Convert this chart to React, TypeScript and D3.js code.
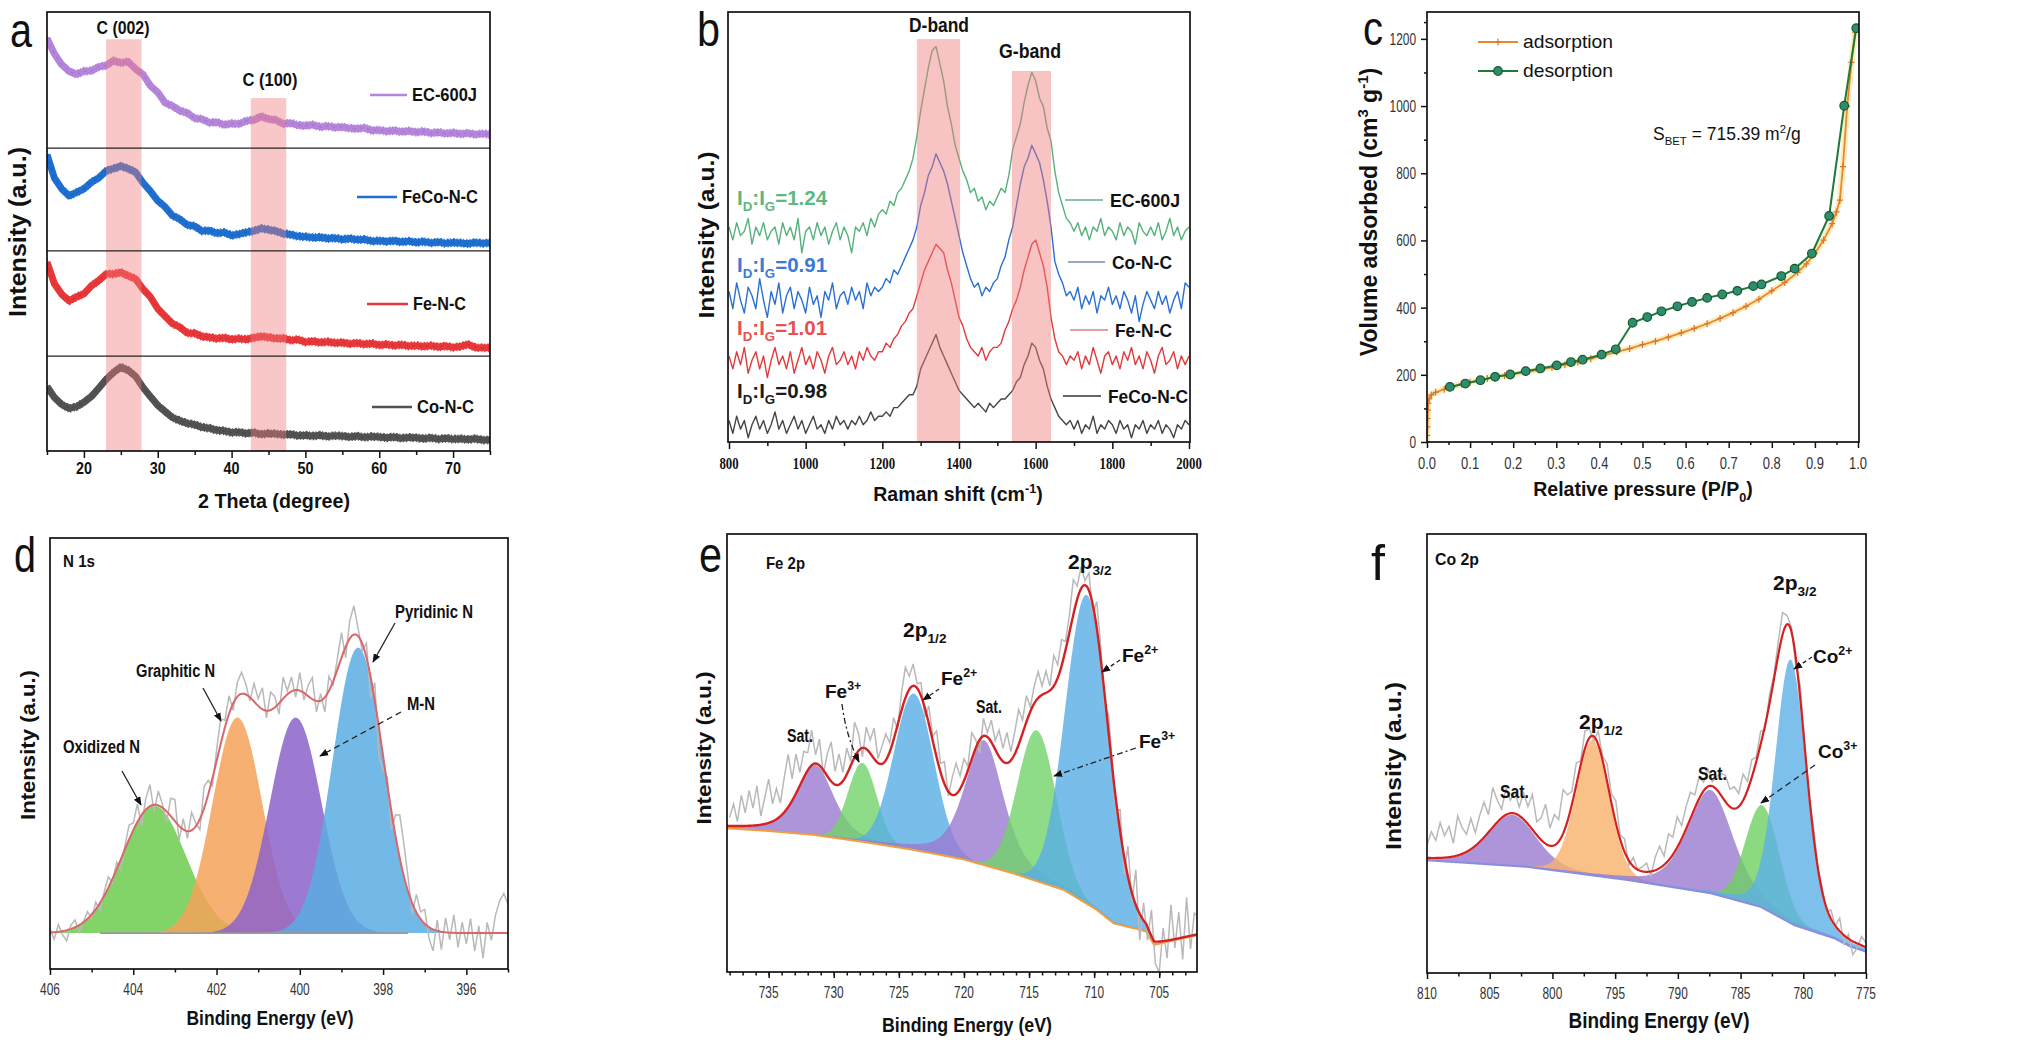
import * as d3 from "d3";
import React, { useEffect, useRef } from "react";

const SANS = "'Liberation Sans', Arial, Helvetica, sans-serif";
const SERIF = "'Liberation Serif', 'Times New Roman', serif";

// ---------- (a) XRD, one reading per degree, 15..75 ----------
const xrdStart = 15;
const xrdNames = ["EC-600J", "FeCo-N-C", "Fe-N-C", "Co-N-C"];
const xrdEC600J = [
  94, 90.5, 88, 86.5, 85.8, 86.5, 86.6, 87.5, 87.8, 88.9,
  88.4, 88.7, 87, 85.8, 83.2, 81.7, 79.3, 78.6, 77.5, 77,
  75.8, 75.6, 74.8, 74.9, 74.3, 74.6, 74.5, 75.2, 75.4, 76.2,
  75.6, 75.4, 74.5, 74.7, 74.2, 74.1, 74.3, 73.8, 74, 73.7,
  73.8, 73.5, 73.4, 73.6, 73, 73.1, 72.8, 73, 72.7, 72.9,
  72.6, 72.8, 72.4, 72.6, 72.3, 72.5, 72.2, 72.4, 72.1, 72.3,
  72.1,
];
const xrdFeCoNC = [
  67.5, 62.2, 59.7, 58.1, 58.9, 59.7, 61.2, 62.2, 63.8, 64.3,
  64.9, 64.3, 63.5, 61.1, 59.2, 57, 55.6, 53.6, 52.8, 51.5,
  51.2, 50.1, 50.2, 49.6, 49.8, 49.1, 49.4, 49.8, 50.1, 50.7,
  50.4, 50.1, 49.5, 49.3, 48.9, 48.8, 48.6, 48.7, 48.4, 48.5,
  48.2, 48.4, 48.1, 48.2, 47.8, 47.9, 47.7, 47.9, 47.6, 47.8,
  47.5, 47.7, 47.4, 47.6, 47.3, 47.5, 47.4, 47.2, 47.5, 47.3,
  47.4,
];
const xrdFeNC = [
  43, 38.1, 35.7, 34.2, 35.1, 35.8, 37.6, 38.8, 40.3, 40.3,
  40.7, 39.9, 39.2, 36.9, 35.1, 32.4, 30.7, 29, 28.2, 26.9,
  26.8, 26.1, 25.9, 25.6, 25.8, 25.4, 25.6, 25.4, 25.8, 26.1,
  25.9, 25.6, 25.7, 25.2, 25.4, 24.8, 25, 24.7, 24.9, 24.6,
  24.7, 24.4, 24.6, 24.3, 24.5, 24.1, 24.3, 24, 24.2, 23.9,
  24, 23.8, 24, 23.7, 23.9, 23.6, 23.8, 24.3, 23.6, 23.5,
  23.5,
];
const xrdCoNC = [
  14.7, 12.2, 10.6, 9.7, 10.1, 11.1, 12.4, 14.3, 16.3, 17.9,
  19.1, 18.4, 17, 14.5, 12.4, 10.4, 9, 7.6, 6.9, 6.3,
  6, 5.4, 5.2, 4.7, 4.6, 4.2, 4.3, 4, 4.2, 3.8,
  4, 3.9, 3.7, 3.8, 3.5, 3.6, 3.4, 3.6, 3.3, 3.5,
  3.4, 3.2, 3.4, 3.1, 3.3, 3.2, 3, 3.2, 2.9, 3.1,
  3, 2.8, 3, 2.7, 2.9, 2.7, 2.8, 2.6, 2.8, 2.5,
  2.5,
];
const xrdBandLabels = ["C (002)", "C (100)"];
const xrdBandFrom = [23, 42.6];
const xrdBandTo = [27.8, 47.4];
const xrdBandTop = [93.8, 80.4];
const xrdSeparators = [69, 45.6, 21.6];
const xrdTicks = [20, 30, 40, 50, 60, 70];
const xrdMinor = [15, 25, 35, 45, 55, 65, 75];

// ---------- (b) Raman, every 10 cm-1 from 800 to 2000 ----------
const ramanStart = 800;
const ramanStep = 10;
const ramanNames = ["EC-600J", "Co-N-C", "Fe-N-C", "FeCo-N-C"];
const ramanRatios = ["1.24", "0.91", "1.01", "0.98"];
const ramanEC600J = [
  50, 47, 51, 48, 49, 52, 46, 50, 48, 51, 47, 49, 50, 46, 51, 48, 50, 47, 52, 44, 49, 50, 47, 51, 48, 50, 46, 49, 51, 47, 50,
  48, 44, 50, 49, 51, 48, 52, 50, 53,
  54, 53, 56, 55, 58, 59, 61, 63, 66, 71,
  77, 82, 87, 91, 92, 88, 84, 78, 74, 69,
  66, 63, 61, 58, 59, 56, 57, 54, 56, 55,
  57, 59, 58, 62, 68, 71, 74, 79, 83, 86,
  84, 80, 78, 73, 70, 63, 58, 55, 52, 51,
  49, 51, 48, 50, 47, 50, 49, 52, 48, 50,
  49, 47, 51, 48, 50, 49, 46, 51, 49, 48,
  50, 48, 51, 47, 49, 52, 48, 50, 47, 49,
  50,
];
const ramanCoNC = [
  35, 31, 37, 33, 30, 36, 34, 31, 38, 33, 29, 35, 32, 37, 30, 34, 36, 31, 35, 33, 30, 36, 32, 34, 29, 35, 33, 37, 31, 34, 35,
  32, 36, 33, 35, 31, 37, 34, 36, 35,
  36, 38, 37, 40, 39, 41, 43, 45, 47, 50,
  55, 58, 62, 64, 67, 65, 63, 60, 56, 52,
  48, 44, 41, 38, 36, 37, 34, 36, 35, 37,
  38, 41, 43, 47, 50, 55, 60, 64, 66, 69,
  67, 65, 61, 56, 50, 42, 39, 37, 34, 35,
  33, 36, 31, 34, 32, 35, 30, 34, 33, 36,
  32, 34, 31, 35, 33, 30, 34, 28, 32, 35,
  33, 31, 35, 32, 34, 30, 33, 35, 31, 37,
  36,
];
const ramanFeNC = [
  20, 17, 21, 18, 22, 16, 19, 21, 17, 20, 15, 19, 22, 18, 20, 17, 21, 16, 19, 22, 18, 20, 17, 21, 19, 16, 20, 22, 18, 19, 21,
  18, 20, 17, 21, 19, 22, 20, 19, 21,
  21, 23, 22, 24, 25, 27, 28, 30, 31, 34,
  37, 40, 42, 44, 46, 45, 44, 40, 37, 33,
  29, 27, 24, 22, 21, 20, 22, 19, 21, 22,
  22, 23, 26, 28, 31, 33, 36, 40, 43, 46,
  47, 44, 41, 36, 29, 24, 21, 20, 18, 20,
  19, 21, 17, 20, 18, 22, 19, 16, 20, 21,
  18, 20, 17, 21, 19, 22, 18, 20, 17, 21,
  19, 16, 20, 22, 18, 19, 21, 17, 20, 18,
  20,
];
const ramanFeCoNC = [
  5, 2, 6, 3, 5, 1, 4, 6, 3, 5, 2, 4, 7, 3, 5, 2, 4, 6, 3, 5, 2, 4, 6, 3, 4, 2, 5, 3, 6, 4, 5,
  3, 5, 4, 6, 4, 5, 7, 5, 6,
  6, 7, 6, 8, 8, 9, 10, 11, 11, 13,
  17, 19, 21, 23, 25, 22, 20, 18, 16, 14,
  12, 11, 10, 9, 8, 9, 8, 7, 9, 8,
  9, 10, 10, 11, 12, 14, 15, 18, 20, 23,
  22, 19, 17, 13, 10, 8, 6, 5, 4, 5,
  3, 5, 2, 4, 3, 6, 2, 4, 3, 5,
  4, 2, 5, 3, 4, 1, 4, 3, 5, 2,
  4, 3, 5, 2, 4, 3, 1, 4, 3, 5,
  4,
];
const ramanBandLabels = ["D-band", "G-band"];
const ramanBandFrom = [1290, 1538];
const ramanBandTo = [1403, 1640];
const ramanBandTop = [93.7, 86.3];
const ramanTicks = [800, 1000, 1200, 1400, 1600, 1800, 2000];
const ramanMinor = [900, 1100, 1300, 1500, 1700, 1900];

// ---------- (c) N2 isotherm ----------
const adsP = [0, 0.0005, 0.001, 0.0015, 0.002, 0.003, 0.005, 0.01, 0.02, 0.04, 0.06, 0.08, 0.1, 0.12, 0.14, 0.16, 0.18, 0.2, 0.23, 0.26, 0.29, 0.32, 0.35, 0.38, 0.41, 0.44, 0.47, 0.5, 0.53, 0.56, 0.59, 0.62, 0.65, 0.68, 0.71, 0.74, 0.77, 0.8, 0.83, 0.86, 0.88, 0.9, 0.92, 0.94, 0.95, 0.958, 0.965, 0.975, 0.985, 0.993];
const adsV = [0, 20, 45, 70, 95, 115, 128, 140, 148, 157, 165, 172, 178, 183, 189, 193, 198, 202, 208, 215, 222, 230, 238, 248, 258, 268, 278, 290, 300, 312, 325, 338, 352, 368, 385, 404, 425, 450, 475, 505, 530, 562, 601, 650, 685, 720, 820, 1000, 1130, 1220];
const desP = [0.996, 0.968, 0.933, 0.893, 0.853, 0.822, 0.776, 0.757, 0.72, 0.685, 0.65, 0.615, 0.581, 0.544, 0.511, 0.477, 0.438, 0.405, 0.361, 0.334, 0.301, 0.263, 0.229, 0.193, 0.158, 0.124, 0.089, 0.053];
const desV = [1232, 1001, 673, 561, 516, 494, 469, 464, 450, 439, 429, 417, 404, 389, 372, 355, 276, 260, 245, 238, 228, 219, 211, 201, 194, 184, 174, 164];
const betXTicks = [0, 0.1, 0.2, 0.3, 0.4, 0.5, 0.6, 0.7, 0.8, 0.9, 1.0];
const betYTicks = [0, 200, 400, 600, 800, 1000, 1200];

// ---------- (d) N 1s: fitted peaks + residual of the measured counts ----------
const n1sNames = ["Oxidized N", "Graphitic N", "M-N", "Pyridinic N"];
const n1sCenter = [403.5, 401.5, 400.1, 398.6];
const n1sHeight = [35.5, 60, 60, 79.5];
const n1sFwhm = [1.8, 1.4, 1.46, 1.44];
const n1sEta = [0, 0, 0, 0];
const n1sBgE = [406, 395];
const n1sBgV = [10, 10];
const n1sResStart = 406;
const n1sResStep = 0.1;
const n1sResidual = [
  1, -2, 2, -1, -3, 1, 2, -2, 0, 2,
  -1, 2, -2, 1, 3, -1, 2, -3, 1, 4,
  2, 5, -3, 3, 6, -2, 4, 1, -3, 5,
  6, -4, 3, -2, 5, 1, -3, 6, 4, -2,
  3, 7, 2, 5, -2, 4, 6, 3, -1, 5,
  2, 6, -2, 5, 3, -3, 6, 1, 4, -2,
  5, -2, 3, 6, -3, 2, -4, 4, -1, 3,
  7, -3, 5, 8, 2, -2, 4, -6, 5, -8,
  -4, 2, -5, 6, 12, 9, 4, -3, 5, 2,
  4, -3, -6, 3, -5, 4, -2, 5, -4, 3,
  -3, 4, -5, 2, -7, 3, -2, 5, 9, 11,
  8,
];
const n1sTicks = [406, 404, 402, 400, 398, 396];
const n1sMinor = [405, 403, 401, 399, 397, 395];

// ---------- (e) Fe 2p ----------
const fe2pNames = ["Sat.", "Fe3+", "Fe2+", "Sat.", "Fe3+", "Fe2+"];
const fe2pCenter = [731.4, 727.8, 723.85, 718.45, 714.4, 710.55];
const fe2pHeight = [16, 18, 35.7, 28.5, 34.4, 70.5];
const fe2pFwhm = [3.3, 2.6, 3.6, 3.5, 3.5, 3.85];
const fe2pEta = [0.5, 0, 0, 0.5, 0, 0];
const fe2pBgE = [738.2, 735, 731.5, 727.5, 723.9, 720, 716.2, 712.3, 709.8, 708.5, 706.4, 706, 705.4, 702.1];
const fe2pBgV = [32.8, 32.2, 31.3, 29.6, 27.9, 25.7, 22.5, 18.7, 14.2, 11.1, 9.6, 9.2, 6.2, 8.4];
const fe2pResStart = 738;
const fe2pResStep = 0.3;
const fe2pResidual = [
  2, 5, 1, 7, 3, 8, 4, 9, 2, 6,
  10, 4, 7, 3, 8, 12, 5, 9, 3, 6,
  4, 8, 2, 6, -1, 5, 9, 3, 7, 2,
  6, 1, 8, 4, -2, 5, 3, 7, 1, 4,
  6, 2, 5, -1, 4, 7, 3, 5, 1, 3,
  -2, 4, 1, 6, 2, 5, -1, 4, 7, 3,
  5, 1, 6, 2, -3, 4, 1, 5, 2, 6,
  3, 7, 2, 5, 8, 3, 6, 1, 4, 6,
  2, 5, 1, 7, 3, 6, 2, 4, 8, 3,
  5, 1, 4, -2, 6, 3, -3, 4, 1, -2,
  5, -4, 7, -2, 8, -6, 4, -3, 6, -5,
  -7, 3, -4, 8, -2, 6, -5, 9, -3, 5,
  4,
];
const fe2pTicks = [735, 730, 725, 720, 715, 710, 705];
const fe2pMinor = d3.range(703, 739);

// ---------- (f) Co 2p ----------
const co2pNames = ["Sat.", "2p1/2", "Sat.", "Co3+", "Co2+"];
const co2pCenter = [803.2, 796.8, 787.4, 783.25, 781.0];
const co2pHeight = [11.6, 30.8, 23.5, 23.3, 60];
const co2pFwhm = [4.5, 3.1, 4.3, 3.2, 2.9];
const co2pEta = [0.3, 0.1, 0.4, 0, 0.2];
const co2pBgE = [810, 802, 794, 787.4, 783.4, 780.7, 777.5, 776.2, 775];
const co2pBgV = [25.7, 24.2, 21.2, 18.2, 15.1, 10.9, 7.9, 6.0, 4.9];
const co2pResStart = 810;
const co2pResStep = 0.35;
const co2pResidual = [
  3, 6, 4, 8, 5, 7, 3, 9, 6, 4,
  7, 3, 6, 8, 4, 9, 5, 2, 6, 3,
  5, 2, 6, 4, 8, 3, 5, 9, 4, 7,
  5, 10, 6, 3, 5, 1, 4, 2, -1, 3,
  1, 4, 2, 5, 1, 3, -1, 2, 0, 1,
  2, -1, 3, 5, 2, 6, 4, 7, 3, 5,
  6, 3, 5, 2, 4, 1, 3, 5, 6, 4,
  5, 3, 6, 2, 4, 1, 3, -1, 2, 1,
  3, 5, 2, 1, -2, 3, 1, -1, 2, 0,
  1, -1, 2, 0, 3, -2, 1, -3, -1, 2,
  1,
];
const co2pTicks = [810, 805, 800, 795, 790, 785, 780, 775];
const co2pMinor = [807.5, 802.5, 797.5, 792.5, 787.5, 782.5, 777.5];

// ---------- helpers ----------
function pseudoVoigt(x, c, h, f, eta) {
  const t = (x - c) / f;
  return h * ((1 - eta) * Math.exp(-4 * Math.LN2 * t * t) + eta / (1 + 4 * t * t));
}

function addClip(defs, id, fr) {
  defs.append("clipPath").attr("id", id).append("rect")
    .attr("x", fr.x0).attr("y", fr.y0).attr("width", fr.x1 - fr.x0).attr("height", fr.y1 - fr.y0);
}

function frame(g, fr) {
  g.append("rect").attr("x", fr.x0).attr("y", fr.y0)
    .attr("width", fr.x1 - fr.x0).attr("height", fr.y1 - fr.y0)
    .attr("fill", "none").attr("stroke", "#111").attr("stroke-width", 1.7);
}

function text(g, x, y, s, size, o: any = {}) {
  const t = g.append("text").attr("x", x).attr("y", y)
    .attr("font-family", o.family || SANS).attr("font-size", size)
    .attr("font-weight", o.weight || "bold").attr("fill", o.fill || "#111")
    .attr("text-anchor", o.anchor || "start").text(s);
  if (o.len) t.attr("textLength", o.len).attr("lengthAdjust", "spacingAndGlyphs");
  if (o.rotate) t.attr("transform", `rotate(-90 ${x} ${y})`);
  return t;
}

// parts: [string, "n" | "sub" | "sup"]
function rich(g, x, y, parts, size, o: any = {}) {
  const t = g.append("text").attr("x", x).attr("y", y)
    .attr("font-family", o.family || SANS).attr("font-size", size)
    .attr("font-weight", o.weight || "bold").attr("fill", o.fill || "#111")
    .attr("text-anchor", o.anchor || "start");
  let shift = 0;
  parts.forEach(([s, k]) => {
    const target = k === "sub" ? size * 0.3 : k === "sup" ? -size * 0.4 : 0;
    t.append("tspan").attr("dy", target - shift)
      .attr("font-size", k === "n" ? size : size * 0.65).text(s);
    shift = target;
  });
  if (o.rotate) t.attr("transform", `rotate(-90 ${x} ${y})`);
  return t;
}

function bottomTicks(g, x, y0, major, minor, majorLen = 7, minorLen = 4) {
  [[minor, minorLen], [major, majorLen]].forEach(([vals, len]: any) => {
    const a = g.append("g").attr("transform", `translate(0,${y0})`)
      .call(d3.axisBottom(x).tickValues(vals).tickSize(len).tickFormat(() => ""));
    a.select(".domain").remove();
    a.selectAll("line").attr("stroke", "#111").attr("stroke-width", 1.5);
  });
}

function bottomLabels(g, x, yb, vals, fmt, size, cw, o: any = {}) {
  vals.forEach((v) => {
    const s = fmt(v);
    text(g, x(v), yb, s, size, { anchor: "middle", len: s.length * cw, ...o });
  });
}

function arrow(g, d, dash?) {
  const p = g.append("path").attr("d", d).attr("fill", "none")
    .attr("stroke", "#222").attr("stroke-width", 1.3).attr("marker-end", "url(#arrowHead)");
  if (dash) p.attr("stroke-dasharray", dash);
}

// ---------- panels ----------
function drawXrd(svg, defs) {
  const fr = { x0: 47, x1: 490, y0: 12, y1: 451 };
  const x = d3.scaleLinear().domain([15, 75]).range([fr.x0, fr.x1]);
  const y = d3.scaleLinear().domain([0, 100]).range([fr.y1, fr.y0]);
  const g = svg.append("g");
  addClip(defs, "clipA", fr);
  const plot = g.append("g").attr("clip-path", "url(#clipA)");
  const series = [xrdEC600J, xrdFeCoNC, xrdFeNC, xrdCoNC];
  const colors = ["#b585dc", "#1f6fd0", "#e8373a", "#525252"];
  const line = d3.line<number>().x((_, i) => x(xrdStart + i)).y((d) => y(d));
  series.forEach((s, k) => {
    plot.append("path").attr("d", line(s)).attr("fill", "none")
      .attr("stroke", colors[k]).attr("stroke-width", 7).attr("stroke-linejoin", "round");
    // ragged edges of the noisy band
    [-3.6, 3.6].forEach((off, j) => {
      plot.append("path").attr("d", line(s)).attr("transform", `translate(0,${off})`)
        .attr("fill", "none").attr("stroke", colors[k]).attr("stroke-width", 1.6)
        .attr("stroke-dasharray", j ? "1.5,2.5,1,1.5" : "1,2,2,1.5");
    });
    plot.append("path").attr("d", line(s)).attr("fill", "none")
      .attr("stroke", d3.color(colors[k]).darker(0.5).formatHex()).attr("stroke-width", 1.2)
      .attr("stroke-dasharray", "3,4").attr("opacity", 0.6);
  });
  xrdBandFrom.forEach((b, k) => {
    plot.append("rect").attr("x", x(b)).attr("width", x(xrdBandTo[k]) - x(b))
      .attr("y", y(xrdBandTop[k])).attr("height", fr.y1 - y(xrdBandTop[k]))
      .attr("fill", "#f07a7a").attr("opacity", 0.42);
  });
  xrdSeparators.forEach((v) => {
    plot.append("line").attr("x1", fr.x0).attr("x2", fr.x1).attr("y1", y(v)).attr("y2", y(v))
      .attr("stroke", "#222").attr("stroke-width", 1.2);
  });
  frame(g, fr);
  bottomTicks(g, x, fr.y1, xrdTicks, xrdMinor, 7, 4);
  bottomLabels(g, x, 474, xrdTicks, (v) => String(v), 17, 8);
  text(g, 123, 34, xrdBandLabels[0], 18, { anchor: "middle", len: 53 });
  text(g, 270, 86, xrdBandLabels[1], 18, { anchor: "middle", len: 55 });
  // legend
  const lx0 = [370, 357, 367, 372], lx1 = [407, 397, 408, 412], ly = [95, 197, 304, 407];
  const tl = [65, 76, 53, 57];
  xrdNames.forEach((n, k) => {
    g.append("line").attr("x1", lx0[k]).attr("x2", lx1[k]).attr("y1", ly[k]).attr("y2", ly[k])
      .attr("stroke", colors[k]).attr("stroke-width", 2.5);
    text(g, lx1[k] + 5, ly[k] + 6, n, 17.5, { len: tl[k] });
  });
  text(g, 274, 508, "2 Theta (degree)", 21, { anchor: "middle", len: 152 });
  text(g, 26, 232, "Intensity (a.u.)", 23, { anchor: "middle", rotate: true, len: 170 });
  text(g, 10, 47, "a", 48, { weight: "normal", len: 22 });
}

function drawRaman(svg, defs) {
  const fr = { x0: 728, x1: 1190, y0: 12, y1: 442 };
  const x = d3.scaleLinear().domain([800, 2000]).range([729, 1189]);
  const y = d3.scaleLinear().domain([0, 100]).range([fr.y1, fr.y0]);
  const g = svg.append("g");
  addClip(defs, "clipB", fr);
  const plot = g.append("g").attr("clip-path", "url(#clipB)");
  const series = [ramanEC600J, ramanCoNC, ramanFeNC, ramanFeCoNC];
  const colors = ["#55b27a", "#2a6fd4", "#e23a3c", "#454545"];
  const line = d3.line<number>().x((_, i) => x(ramanStart + i * ramanStep)).y((d) => y(d));
  series.forEach((s, k) => {
    plot.append("path").attr("d", line(s)).attr("fill", "none")
      .attr("stroke", colors[k]).attr("stroke-width", 1.4).attr("stroke-linejoin", "round");
  });
  ramanBandFrom.forEach((b, k) => {
    plot.append("rect").attr("x", x(b)).attr("width", x(ramanBandTo[k]) - x(b))
      .attr("y", y(ramanBandTop[k])).attr("height", fr.y1 - y(ramanBandTop[k]))
      .attr("fill", "#f07a7a").attr("opacity", 0.45);
  });
  frame(g, fr);
  bottomTicks(g, x, fr.y1, ramanTicks, ramanMinor, 7, 4);
  bottomLabels(g, x, 469, ramanTicks, (v) => String(v), 17, 6.4, { family: SERIF });
  text(g, 939, 32, ramanBandLabels[0], 21, { anchor: "middle", len: 60 });
  text(g, 1030, 58, ramanBandLabels[1], 21, { anchor: "middle", len: 62 });
  const ratioY = [205, 272, 335, 398];
  const ratioCol = ["#5cb87e", "#3a7ad8", "#e85050", "#1a1a1a"];
  ramanRatios.forEach((r, k) => {
    rich(g, 737, ratioY[k], [["I", "n"], ["D", "sub"], [":I", "n"], ["G", "sub"], ["=" + r, "n"]], 20.5,
      { fill: ratioCol[k] });
  });
  const lx0 = [1065, 1068, 1070, 1063], lx1 = [1103, 1105, 1108, 1101], ly = [200, 262, 330, 396];
  const tl = [70, 60, 57, 80];
  const legCol = ["#6aaa8c", "#6f8db5", "#d98080", "#333"];
  ramanNames.forEach((n, k) => {
    g.append("line").attr("x1", lx0[k]).attr("x2", lx1[k]).attr("y1", ly[k]).attr("y2", ly[k])
      .attr("stroke", legCol[k]).attr("stroke-width", 1.6);
    text(g, lx1[k] + 7, ly[k] + 7, n, 19, { len: tl[k] });
  });
  rich(g, 958, 501, [["Raman shift (cm", "n"], ["-1", "sup"], [")", "n"]], 19.5, { anchor: "middle" });
  text(g, 714, 235, "Intensity (a.u.)", 22, { anchor: "middle", rotate: true, len: 167 });
  text(g, 697, 46, "b", 48, { weight: "normal", len: 23 });
}

function drawBet(svg, defs) {
  const fr = { x0: 1427, x1: 1859, y0: 12, y1: 442 };
  const x = d3.scaleLinear().domain([0, 1]).range([1427, 1858]);
  const y = d3.scaleLinear().domain([0, 1280]).range([fr.y1, fr.y0]);
  const g = svg.append("g");
  addClip(defs, "clipC", fr);
  const plot = g.append("g").attr("clip-path", "url(#clipC)");
  const ads = adsP.map((p, i) => [p, adsV[i]]);
  const des = desP.map((p, i) => [p, desV[i]]);
  const line = d3.line<number[]>().x((d) => x(d[0])).y((d) => y(d[1]));
  plot.append("path").attr("d", line(ads)).attr("fill", "none")
    .attr("stroke", "#f7dc7a").attr("stroke-width", 6).attr("opacity", 0.5);
  plot.append("path").attr("d", line(ads)).attr("fill", "none")
    .attr("stroke", "#e8892f").attr("stroke-width", 1.8);
  plot.selectAll(".plus").data(ads).join("path")
    .attr("d", (d) => `M${x(d[0]) - 3},${y(d[1])}H${x(d[0]) + 3}M${x(d[0])},${y(d[1]) - 3.5}V${y(d[1]) + 3.5}`)
    .attr("stroke", "#d9752e").attr("stroke-width", 1.2);
  plot.append("path").attr("d", line(des)).attr("fill", "none")
    .attr("stroke", "#1e7a34").attr("stroke-width", 2);
  plot.selectAll(".dot").data(des).join("circle")
    .attr("cx", (d) => x(d[0])).attr("cy", (d) => y(d[1])).attr("r", 4.3)
    .attr("fill", "#2f8c72").attr("stroke", "#135c24").attr("stroke-width", 1.2);
  frame(g, fr);
  bottomTicks(g, x, fr.y1, betXTicks, [0.05, 0.15, 0.25, 0.35, 0.45, 0.55, 0.65, 0.75, 0.85, 0.95], 6, 3);
  bottomLabels(g, x, 469, betXTicks, d3.format(".1f"), 16, 6, { weight: "normal", fill: "#333" });
  [[[100, 300, 500, 700, 900, 1100, 1250], 3], [betYTicks, 6]].forEach(([vals, len]: any) => {
    const a = g.append("g").attr("transform", `translate(${fr.x0},0)`)
      .call(d3.axisLeft(y).tickValues(vals).tickSize(len).tickFormat(() => ""));
    a.select(".domain").remove();
    a.selectAll("line").attr("stroke", "#111").attr("stroke-width", 1.5);
  });
  betYTicks.forEach((v) => {
    const s = String(v);
    text(g, 1416, y(v) + 6, s, 16, { anchor: "end", weight: "normal", fill: "#333", len: s.length * 6.6 });
  });
  // legend
  g.append("line").attr("x1", 1478).attr("x2", 1518).attr("y1", 42).attr("y2", 42)
    .attr("stroke", "#e8892f").attr("stroke-width", 2);
  g.append("path").attr("d", "M1495,42H1501M1498,38.5V45.5").attr("stroke", "#d9752e").attr("stroke-width", 1.2);
  text(g, 1523, 48, "adsorption", 19, { weight: "normal", len: 90 });
  g.append("line").attr("x1", 1478).attr("x2", 1518).attr("y1", 71).attr("y2", 71)
    .attr("stroke", "#1e7a34").attr("stroke-width", 2);
  g.append("circle").attr("cx", 1498).attr("cy", 71).attr("r", 4.3)
    .attr("fill", "#2f8c72").attr("stroke", "#135c24").attr("stroke-width", 1.2);
  text(g, 1523, 77, "desorption", 19, { weight: "normal", len: 90 });
  rich(g, 1653, 140, [["S", "n"], ["BET", "sub"], [" = 715.39 m", "n"], ["2", "sup"], ["/g", "n"]], 17.5,
    { weight: "normal" });
  rich(g, 1643, 496, [["Relative pressure (P/P", "n"], ["0", "sub"], [")", "n"]], 19.5, { anchor: "middle" });
  rich(g, 1377, 212, [["Volume adsorbed (cm", "n"], ["3", "sup"], [" g", "n"], ["-1", "sup"], [")", "n"]], 23,
    { anchor: "middle", rotate: true });
  text(g, 1363, 45, "c", 48, { weight: "normal", len: 20 });
}

function drawXps(svg, defs, c) {
  const { fr } = c;
  const x = d3.scaleLinear().domain(c.xDom).range([fr.x0, fr.x1]);
  const y = d3.scaleLinear().domain(c.yDom).range([fr.y1, fr.y0]);
  const bg = d3.scaleLinear().domain(c.bgE).range(c.bgV);
  const comp = (e, k) => pseudoVoigt(e, c.center[k], c.height[k], c.fwhm[k], c.eta[k]);
  const env = (e) => bg(e) + c.center.reduce((s, _, k) => s + comp(e, k), 0);
  const lo = d3.min(c.xDom), hi = d3.max(c.xDom);
  const grid = d3.range(lo, hi, 0.05).concat([hi]);
  const g = svg.append("g");
  addClip(defs, c.id, fr);
  const plot = g.append("g").attr("clip-path", `url(#${c.id})`);
  c.center.forEach((_, k) => {
    const area = d3.area<number>().x((e) => x(e)).y0((e) => y(bg(e))).y1((e) => y(bg(e) + comp(e, k)));
    plot.append("path").attr("d", area(grid)).attr("fill", c.colors[k]).attr("fill-opacity", c.alpha);
  });
  const bgGrid = grid.filter((e) => e >= c.bgLine[0] && e <= c.bgLine[1]);
  plot.append("path").attr("d", d3.line<number>().x((e) => x(e)).y((e) => y(bg(e)))(bgGrid))
    .attr("fill", "none").attr("stroke", c.bgColor).attr("stroke-width", c.bgWidth);
  const raw = c.res.map((r, i) => {
    const e = c.resStart - i * c.resStep;
    return [e, env(e) + r];
  });
  plot.append("path").attr("d", d3.line<number[]>().x((d) => x(d[0])).y((d) => y(d[1]))(raw))
    .attr("fill", "none").attr("stroke", "#b9b9b9").attr("stroke-width", 1.5);
  plot.append("path").attr("d", d3.line<number>().x((e) => x(e)).y((e) => y(env(e)))(grid))
    .attr("fill", "none").attr("stroke", c.envColor).attr("stroke-width", c.envWidth);
  frame(g, fr);
  bottomTicks(g, x, fr.y1, c.ticks, c.minor, 6, 3.5);
  bottomLabels(g, x, c.tickY, c.ticks, (v) => String(v), 17, 6.6, { weight: "normal", fill: "#333" });
  return g;
}

function drawN1s(svg, defs) {
  const g = drawXps(svg, defs, {
    id: "clipD", fr: { x0: 50, x1: 508, y0: 538, y1: 969 },
    xDom: [406, 395], yDom: [0, 120],
    bgE: n1sBgE, bgV: n1sBgV, center: n1sCenter, height: n1sHeight, fwhm: n1sFwhm, eta: n1sEta,
    colors: ["#6ccb4e", "#f4a259", "#8c63ca", "#5badE3"], alpha: 0.85,
    bgLine: [397.4, 404.8], bgColor: "#9a9a9a", bgWidth: 1.6,
    res: n1sResidual, resStart: n1sResStart, resStep: n1sResStep,
    envColor: "#d8676c", envWidth: 2,
    ticks: n1sTicks, minor: n1sMinor, tickY: 995,
  });
  text(g, 63, 567, "N 1s", 17, { len: 32 });
  text(g, 395, 618, n1sNames[3], 18, { len: 78 });
  text(g, 136, 677, n1sNames[1], 18, { len: 79 });
  text(g, 407, 710, n1sNames[2], 18, { len: 28 });
  text(g, 63, 753, n1sNames[0], 18, { len: 77 });
  arrow(g, "M395,623L373,662");
  arrow(g, "M203,688L221,721");
  arrow(g, "M401,712L320,756", "6,4");
  arrow(g, "M122,771L141,805");
  text(g, 270, 1025, "Binding Energy (eV)", 21, { anchor: "middle", len: 167 });
  text(g, 35, 745, "Intensity (a.u.)", 20, { anchor: "middle", rotate: true, len: 150 });
  text(g, 14, 572, "d", 50, { weight: "normal", len: 22 });
}

function drawFe2p(svg, defs) {
  const g = drawXps(svg, defs, {
    id: "clipE", fr: { x0: 727, x1: 1197, y0: 534, y1: 972 },
    xDom: [738.2, 702.1], yDom: [0, 100],
    bgE: fe2pBgE, bgV: fe2pBgV, center: fe2pCenter, height: fe2pHeight, fwhm: fe2pFwhm, eta: fe2pEta,
    colors: ["#9a7ad0", "#72d36a", "#58aee6", "#9a7ad0", "#72d36a", "#58aee6"], alpha: 0.8,
    bgLine: [702, 739], bgColor: "#f0a040", bgWidth: 2,
    res: fe2pResidual, resStart: fe2pResStart, resStep: fe2pResStep,
    envColor: "#d42222", envWidth: 2.4,
    ticks: fe2pTicks, minor: fe2pMinor, tickY: 998,
  });
  text(g, 766, 569, "Fe 2p", 17, { len: 39 });
  rich(g, 1068, 569, [["2p", "n"], ["3/2", "sub"]], 21);
  rich(g, 903, 637, [["2p", "n"], ["1/2", "sub"]], 21);
  text(g, 787, 742, fe2pNames[0], 18, { len: 26 });
  text(g, 976, 713, fe2pNames[3], 18, { len: 26 });
  rich(g, 825, 698, [["Fe", "n"], ["3+", "sup"]], 19);
  rich(g, 941, 685, [["Fe", "n"], ["2+", "sup"]], 19);
  rich(g, 1122, 662, [["Fe", "n"], ["2+", "sup"]], 19);
  rich(g, 1139, 748, [["Fe", "n"], ["3+", "sup"]], 19);
  arrow(g, "M842,704Q846,736 859,762", "6,3,2,3");
  arrow(g, "M939,689L923,700", "4,3");
  arrow(g, "M1120,660L1102,672", "4,3");
  arrow(g, "M1136,748L1054,776", "6,3,2,3");
  text(g, 967, 1032, "Binding Energy (eV)", 21, { anchor: "middle", len: 170 });
  text(g, 711, 748, "Intensity (a.u.)", 21, { anchor: "middle", rotate: true, len: 153 });
  text(g, 699, 572, "e", 50, { weight: "normal", len: 23 });
}

function drawCo2p(svg, defs) {
  const g = drawXps(svg, defs, {
    id: "clipF", fr: { x0: 1427, x1: 1866, y0: 534, y1: 973 },
    xDom: [810, 775], yDom: [0, 100],
    bgE: co2pBgE, bgV: co2pBgV, center: co2pCenter, height: co2pHeight, fwhm: co2pFwhm, eta: co2pEta,
    colors: ["#9a7ad0", "#f8b06a", "#9a7ad0", "#6ed062", "#5cb0e6"], alpha: 0.8,
    bgLine: [775, 810], bgColor: "#8a8ee0", bgWidth: 2.2,
    res: co2pResidual, resStart: co2pResStart, resStep: co2pResStep,
    envColor: "#d62020", envWidth: 2.2,
    ticks: co2pTicks, minor: co2pMinor, tickY: 999,
  });
  text(g, 1435, 565, "Co 2p", 17, { len: 44 });
  rich(g, 1773, 590, [["2p", "n"], ["3/2", "sub"]], 21);
  rich(g, 1579, 729, [["2p", "n"], ["1/2", "sub"]], 21);
  text(g, 1500, 798, co2pNames[0], 19, { len: 29 });
  text(g, 1698, 780, co2pNames[2], 19, { len: 29 });
  rich(g, 1813, 663, [["Co", "n"], ["2+", "sup"]], 19);
  rich(g, 1818, 758, [["Co", "n"], ["3+", "sup"]], 19);
  arrow(g, "M1812,657L1794,669", "4,3");
  arrow(g, "M1815,765L1761,803", "6,4");
  text(g, 1659, 1028, "Binding Energy (eV)", 22, { anchor: "middle", len: 181 });
  text(g, 1401, 766, "Intensity (a.u.)", 22, { anchor: "middle", rotate: true, len: 168 });
  text(g, 1371, 580, "f", 50, { weight: "normal", len: 14 });
}

export default function App() {
  const svgRef = useRef<SVGSVGElement>(null);

  useEffect(() => {
    const svg = d3.select(svgRef.current);
    svg.selectAll("*").remove();
    const defs = svg.append("defs");
    defs.append("marker").attr("id", "arrowHead").attr("viewBox", "0 0 10 10")
      .attr("refX", 9).attr("refY", 5).attr("markerWidth", 9).attr("markerHeight", 9)
      .attr("markerUnits", "userSpaceOnUse").attr("orient", "auto")
      .append("path").attr("d", "M0,1L10,5L0,9z").attr("fill", "#111");
    drawXrd(svg, defs);
    drawRaman(svg, defs);
    drawBet(svg, defs);
    drawN1s(svg, defs);
    drawFe2p(svg, defs);
    drawCo2p(svg, defs);
  }, []);

  return (
    <svg ref={svgRef} width={2042} height={1052}
      style={{ position: "absolute", left: 0, top: 0, background: "#fff" }} />
  );
}
